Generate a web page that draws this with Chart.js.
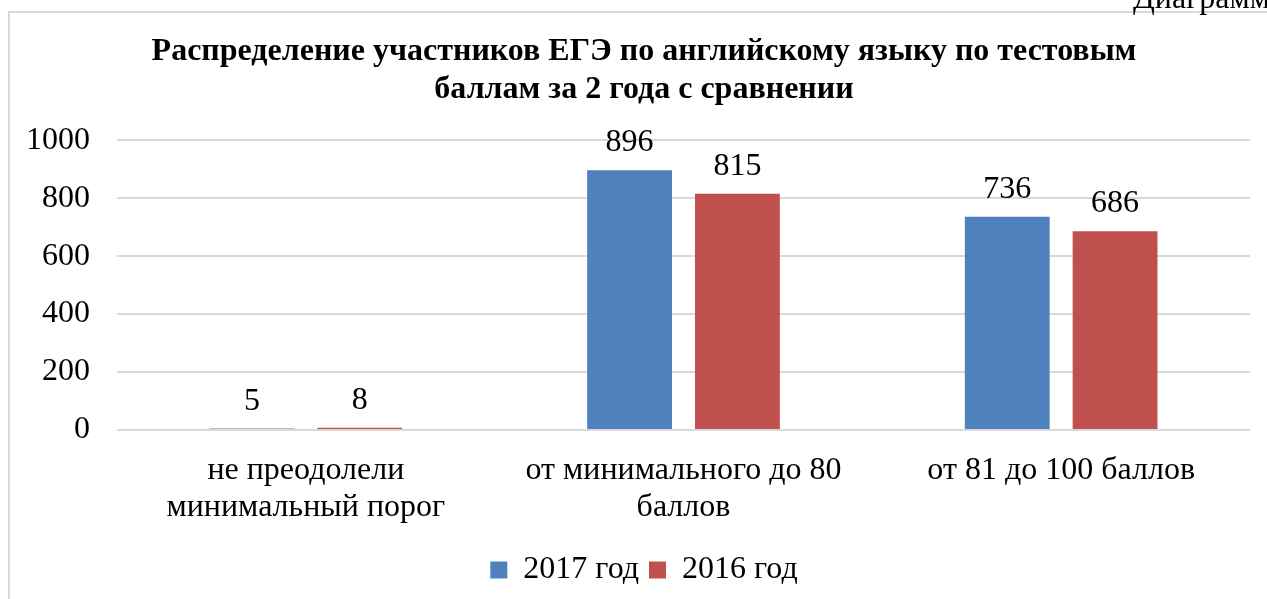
<!DOCTYPE html>
<html>
<head>
<meta charset="utf-8">
<script src="https://cdn.jsdelivr.net/npm/chart.js@4.4.1/dist/chart.umd.min.js"></script>
<style>
html,body{margin:0;padding:0;background:#fff;}
#c{display:block;}
</style>
</head>
<body>
<canvas id="c" width="1267" height="599"></canvas>
<script>
const categories = [["не преодолели", "минимальный порог"], ["от минимального до 80", "баллов"], "от 81 до 100 баллов"];
const series2017 = [5, 896, 736];
const series2016 = [8, 815, 686];
const seriesNames = ["2017 год", "2016 год"];
const titleLines = ["Распределение участников ЕГЭ по английскому языку по тестовым", "баллам за 2 года с сравнении"];
const yTicksMax = 1000;
const yTicksStep = 200;
const cornerText = "Диаграмма";

const SERIF = "'Liberation Serif', 'Times New Roman', serif";

const frame = {
  id: 'frame',
  beforeDraw(chart) {
    const ctx = chart.ctx;
    ctx.save();
    ctx.fillStyle = '#fff';
    ctx.fillRect(0, 0, chart.width, chart.height);
    ctx.strokeStyle = '#d9d9d9';
    ctx.lineWidth = 2;
    ctx.strokeRect(9, 12, 1400, 800);
    ctx.fillStyle = '#000';
    ctx.font = "32px " + SERIF;
    ctx.textBaseline = 'alphabetic';
    ctx.textAlign = 'left';
    ctx.fillText(cornerText, 1133, 8);
    ctx.restore();
  }
};

const valueLabels = {
  id: 'valueLabels',
  afterDatasetsDraw(chart) {
    const ctx = chart.ctx;
    ctx.save();
    ctx.fillStyle = '#000';
    ctx.font = "32px " + SERIF;
    ctx.textAlign = 'center';
    ctx.textBaseline = 'alphabetic';
    chart.data.datasets.forEach((ds, i) => {
      const meta = chart.getDatasetMeta(i);
      meta.data.forEach((bar, j) => {
        ctx.fillText(String(ds.data[j]), bar.x, bar.y - 19);
      });
    });
    ctx.restore();
  }
};

new Chart(document.getElementById('c'), {
  type: 'bar',
  data: {
    labels: categories,
    datasets: [
      { label: seriesNames[0], data: series2017, backgroundColor: '#4F81BD', categoryPercentage: 0.571, barPercentage: 0.787 },
      { label: seriesNames[1], data: series2016, backgroundColor: '#C0504D', categoryPercentage: 0.571, barPercentage: 0.787 }
    ]
  },
  options: {
    responsive: false,
    animation: false,
    devicePixelRatio: 1,
    layout: { padding: { left: 21, right: 0, top: 0, bottom: 3 } },
    plugins: {
      title: {
        display: true,
        text: titleLines,
        color: '#000',
        font: { family: SERIF, size: 32, weight: 'bold', lineHeight: 1.19 },
        padding: { top: 33, bottom: 31 }
      },
      legend: {
        position: 'bottom',
        labels: {
          color: '#000',
          font: { family: SERIF, size: 32 },
          boxWidth: 17,
          boxHeight: 17,
          padding: 10
        }
      },
      tooltip: { enabled: false }
    },
    scales: {
      x: {
        grid: { display: false, drawTicks: false },
        border: { display: false },
        ticks: {
          color: '#000',
          font: { family: SERIF, size: 32, lineHeight: 1.16 },
          padding: 22,
          maxRotation: 0,
          autoSkip: false
        },
        afterFit(scale) { scale.height = 114; }
      },
      y: {
        min: 0,
        max: yTicksMax,
        grid: { color: '#d9d9d9', lineWidth: 2, drawTicks: false },
        border: { display: false },
        ticks: {
          stepSize: yTicksStep,
          color: '#000',
          font: { family: SERIF, size: 32 },
          padding: 27,
          callback: (v) => String(v)
        },
        afterFit(scale) { scale.width = 96; }
      },
      yRight: {
        type: 'linear',
        position: 'right',
        display: true,
        grid: { display: false, drawTicks: false },
        border: { display: false },
        ticks: { display: false },
        afterFit(scale) { scale.width = 17; }
      }
    }
  },
  plugins: [frame, valueLabels]
});
</script>
</body>
</html>
